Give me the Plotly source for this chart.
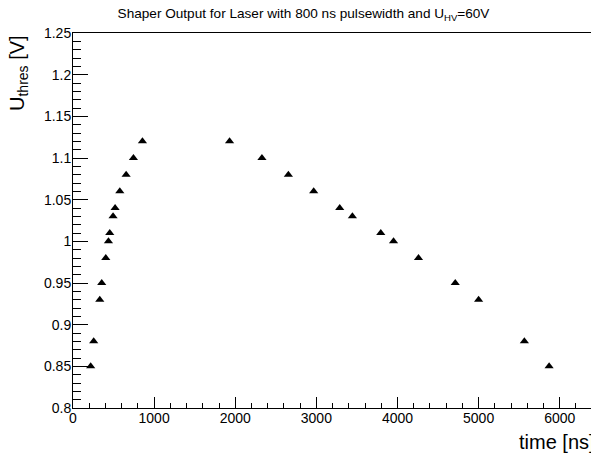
import plotly.graph_objects as go

time_ns = [218, 255, 330, 354, 404, 437, 453, 494, 519, 577, 655, 745, 856,
           1930, 2329, 2655, 2967, 3288, 3444, 3794, 3951, 4259, 4712, 5000, 5564, 5869]
u_thres = [0.85, 0.88, 0.93, 0.95, 0.98, 1.00, 1.01, 1.03, 1.04, 1.06, 1.08, 1.10, 1.12,
           1.12, 1.10, 1.08, 1.06, 1.04, 1.03, 1.01, 1.00, 0.98, 0.95, 0.93, 0.88, 0.85]

title_text = "Shaper Output for Laser with 800 ns pulsewidth and U<sub>HV</sub>=60V"
x_title = "time [ns]"
y_title = "U<sub>thres</sub> [V]"

FONT = "Liberation Sans, Arial, Helvetica, sans-serif"

fig = go.Figure()
fig.add_trace(go.Scatter(
    x=time_ns, y=u_thres, mode="markers",
    marker=dict(symbol="triangle-up", size=8, color="black", line=dict(width=0)),
    showlegend=False, hoverinfo="x+y",
))

axis_common = dict(
    showgrid=False, zeroline=False, showline=True, linecolor="black", linewidth=1,
    mirror=True, ticks="inside", tickcolor="black", tickwidth=1,
    tickfont=dict(family=FONT, size=14, color="black"),
)

fig.update_xaxes(
    range=[0, 6410], tickmode="linear", tick0=0, dtick=1000, ticklen=11,
    ticklabelstandoff=-3,
    minor=dict(ticks="inside", dtick=200, ticklen=5, tickcolor="black", tickwidth=1, showgrid=False),
    **axis_common,
)
fig.update_yaxes(
    range=[0.8, 1.25], tickmode="linear", tick0=0.8, dtick=0.05, ticklen=15,
    tickformat="~g", ticklabelstandoff=-2,
    minor=dict(ticks="inside", dtick=0.01, ticklen=8, tickcolor="black", tickwidth=1, showgrid=False),
    **axis_common,
)

# page body has an 8px margin, so the figure is drawn offset by (8, 8)
fig.update_layout(
    width=591, height=447,
    margin=dict(l=65, r=6, t=25, b=47, autoexpand=False),
    paper_bgcolor="white", plot_bgcolor="white",
    font=dict(family=FONT, color="black"),
    title=dict(text=title_text, x=0.5, xanchor="center", y=0.989, yanchor="middle",
               font=dict(family=FONT, size=13.6, color="black")),
    annotations=[
        dict(text=x_title, xref="paper", yref="paper", x=1.0, y=0,
             xanchor="right", yanchor="top", xshift=4, yshift=-21, showarrow=False,
             font=dict(family=FONT, size=20, color="black")),
        dict(text=y_title, xref="paper", yref="paper", x=0, y=1.0,
             xanchor="center", yanchor="top", xshift=-55, showarrow=False, textangle=-90,
             font=dict(family=FONT, size=20, color="black")),
    ],
)

fig.write_html("out.html")
